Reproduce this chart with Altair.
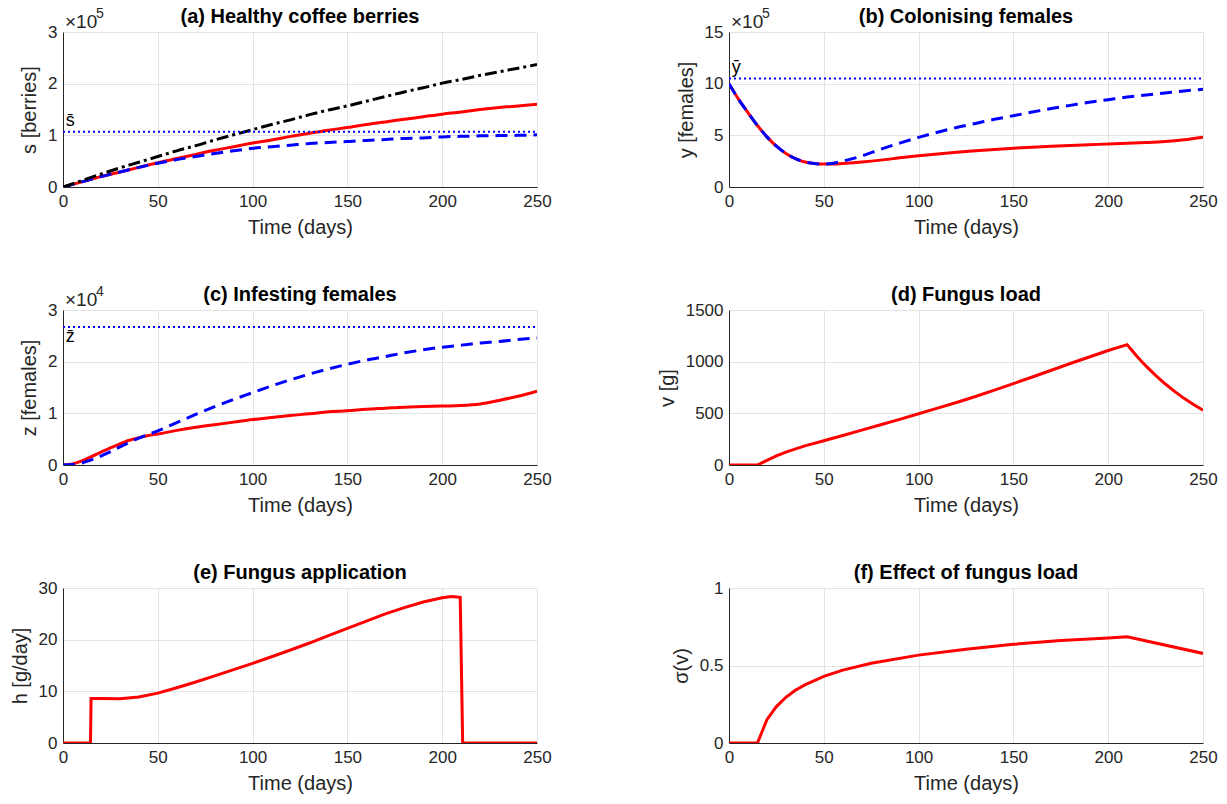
import altair as alt
import pandas as pd

FONT = "Liberation Sans"
X_TICKS = [0, 50, 100, 150, 200, 250]

# (a) Healthy coffee berries, units of 1e5 berries
T_A = [0, 10, 20, 30, 40, 50, 60, 70, 80, 90, 100, 110, 120, 130, 140, 150, 160, 170, 180, 190, 200, 210, 220, 230, 240, 250]
S_NO_CONTROL = [0, 0.125, 0.25, 0.37, 0.48, 0.59, 0.70, 0.80, 0.91, 1.01, 1.11, 1.21, 1.30, 1.40, 1.49, 1.57, 1.66, 1.75, 1.84, 1.92, 2.01, 2.08, 2.16, 2.23, 2.30, 2.37]
S_CONTROL = [0, 0.10, 0.20, 0.29, 0.38, 0.47, 0.55, 0.63, 0.71, 0.78, 0.85, 0.91, 0.98, 1.04, 1.10, 1.15, 1.21, 1.26, 1.31, 1.36, 1.41, 1.45, 1.50, 1.54, 1.57, 1.60]
S_UNCONTROLLED = [0, 0.10, 0.20, 0.29, 0.38, 0.46, 0.53, 0.59, 0.65, 0.70, 0.75, 0.78, 0.81, 0.84, 0.86, 0.88, 0.90, 0.92, 0.94, 0.95, 0.97, 0.98, 0.99, 0.995, 1.0, 1.01]
S_BAR = 1.07

# (b) Colonising females, units of 1e5
T_B = [0, 5, 10, 15, 20, 25, 30, 35, 40, 45, 50, 55, 60, 70, 80, 90, 100, 110, 120, 130, 140, 150, 160, 170, 180, 190, 200, 210, 220, 230, 240, 250]
Y_CONTROL = [10.0, 8.5, 7.2, 5.95, 4.85, 3.95, 3.25, 2.75, 2.42, 2.27, 2.22, 2.22, 2.28, 2.42, 2.6, 2.82, 3.02, 3.2, 3.36, 3.5, 3.63, 3.75, 3.85, 3.94, 4.02, 4.09, 4.16, 4.23, 4.3, 4.4, 4.57, 4.82]
Y_UNCONTROLLED = [10.0, 8.5, 7.2, 5.95, 4.85, 3.95, 3.25, 2.75, 2.42, 2.27, 2.22, 2.3, 2.5, 3.0, 3.65, 4.25, 4.8, 5.3, 5.75, 6.15, 6.55, 6.9, 7.25, 7.6, 7.9, 8.2, 8.45, 8.7, 8.9, 9.1, 9.3, 9.45]
Y_BAR = 10.5

# (c) Infesting females, units of 1e4
T_C = [0, 5, 10, 15, 20, 25, 30, 35, 40, 45, 50, 60, 70, 80, 90, 100, 110, 120, 130, 140, 150, 160, 170, 180, 190, 200, 210, 220, 230, 240, 250]
Z_CONTROL = [0, 0.02, 0.08, 0.16, 0.25, 0.33, 0.41, 0.48, 0.53, 0.57, 0.60, 0.67, 0.73, 0.78, 0.83, 0.88, 0.92, 0.96, 0.99, 1.03, 1.05, 1.08, 1.10, 1.12, 1.13, 1.14, 1.15, 1.18, 1.25, 1.33, 1.43]
Z_UNCONTROLLED = [0, 0.01, 0.04, 0.10, 0.17, 0.26, 0.35, 0.44, 0.52, 0.59, 0.66, 0.82, 0.98, 1.13, 1.27, 1.40, 1.53, 1.65, 1.76, 1.86, 1.95, 2.03, 2.10, 2.17, 2.23, 2.28, 2.32, 2.36, 2.39, 2.43, 2.46]
Z_BAR = 2.67

# (d) Fungus load [g]
T_D = [0, 15, 20, 25, 30, 40, 50, 60, 70, 80, 90, 100, 110, 120, 130, 140, 150, 160, 170, 180, 190, 200, 210, 212, 215, 218, 220, 225, 230, 235, 240, 245, 250]
V_LOAD = [0, 0, 45, 88, 125, 185, 235, 285, 337, 390, 442, 496, 550, 605, 663, 724, 788, 852, 917, 982, 1045, 1108, 1165, 1120, 1055, 994, 957, 868, 786, 712, 645, 585, 530]

# (e) Fungus application [g/day]
T_E = [0, 14.5, 14.8, 20, 30, 40, 50, 60, 70, 80, 90, 100, 110, 120, 130, 140, 150, 160, 170, 180, 190, 200, 205, 209.5, 210.8, 250]
H_RATE = [0, 0, 8.6, 8.6, 8.55, 8.9, 9.65, 10.7, 11.8, 13.0, 14.2, 15.4, 16.7, 18.0, 19.35, 20.8, 22.2, 23.6, 25.0, 26.2, 27.3, 28.1, 28.35, 28.2, 0, 0]

# (f) Effect of fungus load
T_F = [0, 15, 16, 17, 18, 20, 22, 25, 30, 35, 40, 50, 60, 75, 100, 125, 150, 175, 200, 210, 250]
SIGMA = [0, 0, 0.03, 0.06, 0.09, 0.15, 0.185, 0.235, 0.295, 0.34, 0.375, 0.43, 0.47, 0.515, 0.567, 0.605, 0.637, 0.662, 0.678, 0.685, 0.578]

TITLES = ["(a) Healthy coffee berries", "(b) Colonising females", "(c) Infesting females",
          "(d) Fungus load", "(e) Fungus application", "(f) Effect of fungus load"]

RED = "#ff0000"
BLUE = "#0000ff"
INK = "#262626"
W, H = 474, 155


def df(t, v):
    return pd.DataFrame({"t": t, "v": v})


def encodings(ytitle, ydom, yvals, fmt=None):
    x = alt.X("t:Q", scale=alt.Scale(domain=[0, 250], nice=False, zero=False),
              axis=alt.Axis(values=X_TICKS, title="Time (days)"))
    yax = dict(values=yvals, title=ytitle)
    if fmt:
        yax["format"] = fmt
    y = alt.Y("v:Q", scale=alt.Scale(domain=ydom, nice=False), axis=alt.Axis(**yax))
    return x, y


def line(data, enc, color, dash=None, width=3, interp="monotone"):
    x, y = enc
    kw = dict(color=color, strokeWidth=width, interpolate=interp, clip=True)
    if dash:
        kw["strokeDash"] = dash
    return alt.Chart(data).mark_line(**kw).encode(x=x, y=y)


def hline(value, enc):
    x, y = enc
    return alt.Chart(df([0, 250], [value, value])).mark_line(
        color=BLUE, strokeWidth=2, strokeDash=[2, 3]).encode(x=x, y=y)


def bar_label(value, text, enc, below=False):
    x, y = enc
    d = pd.DataFrame({"t": [1.5], "v": [value], "label": [text]})
    return alt.Chart(d).mark_text(
        align="left", baseline="top" if below else "bottom", dy=1 if below else -2,
        font=FONT, fontSize=18, color="#000000").encode(x=x, y=y, text="label:N")


def multiplier(exp):
    base = alt.Chart(pd.DataFrame({"label": ["×10"]})).mark_text(
        align="left", baseline="alphabetic", font=FONT, fontSize=19, color=INK
    ).encode(x=alt.value(2), y=alt.value(-4), text="label:N")
    sup = alt.Chart(pd.DataFrame({"label": [exp]})).mark_text(
        align="left", baseline="alphabetic", font=FONT, fontSize=14, color=INK
    ).encode(x=alt.value(33), y=alt.value(-14), text="label:N")
    return [base, sup]


def title_mark(text):
    return alt.Chart(pd.DataFrame({"label": [text]})).mark_text(
        align="center", baseline="alphabetic", font=FONT, fontSize=20, fontWeight="bold", color="#000000"
    ).encode(x=alt.value(W / 2), y=alt.value(-9), text="label:N")


def panel(layers, title):
    return alt.layer(*layers, title_mark(title)).properties(width=W, height=H)


ea = encodings("s [berries]", [0, 3], [0, 1, 2, 3])
pa = panel([
    line(df(T_A, S_CONTROL), ea, RED),
    line(df(T_A, S_UNCONTROLLED), ea, BLUE, [12, 7]),
    line(df(T_A, S_NO_CONTROL), ea, "#000000", [12, 4, 3, 4]),
    hline(S_BAR, ea),
    bar_label(S_BAR, "s\u0304", ea),
] + multiplier("5"), TITLES[0])

eb = encodings("y [females]", [0, 15], [0, 5, 10, 15])
pb = panel([
    line(df(T_B, Y_CONTROL), eb, RED),
    line(df(T_B, Y_UNCONTROLLED), eb, BLUE, [12, 7]),
    hline(Y_BAR, eb),
    bar_label(Y_BAR, "\u0233", eb),
] + multiplier("5"), TITLES[1])

ec = encodings("z [females]", [0, 3], [0, 1, 2, 3])
pc = panel([
    line(df(T_C, Z_CONTROL), ec, RED),
    line(df(T_C, Z_UNCONTROLLED), ec, BLUE, [12, 7]),
    hline(Z_BAR, ec),
    bar_label(Z_BAR, "z\u0304", ec, below=True),
] + multiplier("4"), TITLES[2])

ed = encodings("v [g]", [0, 1500], [0, 500, 1000, 1500], "d")
pd_ = panel([line(df(T_D, V_LOAD), ed, RED, interp="linear")], TITLES[3])

ee = encodings("h [g/day]", [0, 30], [0, 10, 20, 30])
pe = panel([line(df(T_E, H_RATE), ee, RED, interp="linear")], TITLES[4])

ef = encodings("σ(v)", [0, 1], [0, 0.5, 1], "~g")
pf = panel([line(df(T_F, SIGMA), ef, RED, interp="linear")], TITLES[5])

chart = alt.concat(pa, pb, pc, pd_, pe, pf, columns=2, spacing={"row": 123, "column": 192}, bounds="flush").properties(
    padding={"left": 10, "top": 7, "right": 5, "bottom": 5}
).configure_view(stroke=None).configure_axis(
    labelFont=FONT, labelFontSize=17, labelColor=INK, labelPadding=6, labelFlush=False,
    titleFont=FONT, titleFontSize=20, titleFontWeight="normal", titleColor=INK, titlePadding=8,
    domainColor=INK, domainWidth=1, ticks=False, gridColor="#e3e3e3", gridWidth=1,
)

chart.save("out.html", embed_options={"renderer": "svg", "actions": False})
